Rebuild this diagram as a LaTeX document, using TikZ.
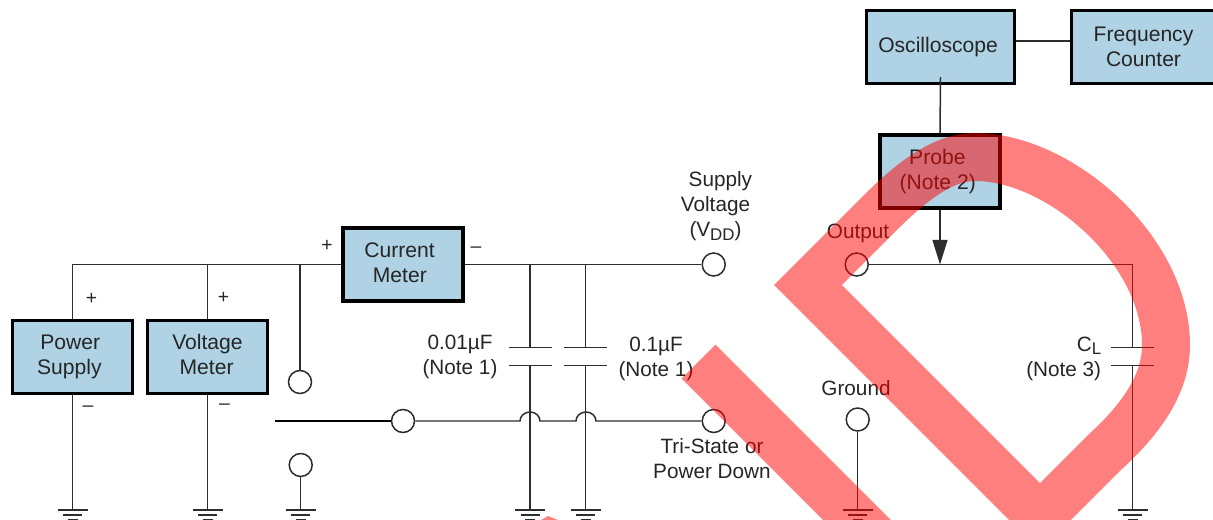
\documentclass[tikz,border=0pt]{standalone}
\usepackage{fontspec}
\setmainfont{Liberation Sans}
\usetikzlibrary{arrows.meta}
\definecolor{boxblue}{RGB}{175,210,228}
\definecolor{wire}{RGB}{45,45,45}
\newcommand{\lowtxt}[1]{\raisebox{-2.2pt}{\fontsize{9.6}{10}\selectfont #1}}
\tikzset{
	unit/.style={draw=black,fill=boxblue,line width=2pt,minimum width=2.4cm,minimum height=1.46cm,inner sep=0pt,align=center,font=\fontsize{12}{14.2}\selectfont,text=black!85},
	term/.style={circle,draw=wire,line width=0.85pt,minimum size=0.46cm,inner sep=0pt},
	lab/.style={inner sep=0pt,align=center,font=\fontsize{11.8}{14.2}\selectfont,text=black!85},
	sign/.style={inner sep=0pt,font=\fontsize{11}{12}\selectfont,text=black!85}
}
\begin{document}
\begin{tikzpicture}[x=0.02cm,y=-0.02cm,>={Triangle[length=14pt,width=8.5pt]},wire/.style={draw=wire,line width=0.85pt}]
	\clip (0,0) rectangle (1213,520);
	\fill[white] (0,0) rectangle (1213,520);
	% blocks
	\node[unit] (ps) at (72.5,357) {\hspace*{-2.6pt}Power\\\hspace*{-3.6pt}Supply};
	\node[unit] (vm) at (207.5,357) {Voltage\\\hspace*{-1pt}Meter\vphantom{y}};
	\node[unit] (cm) at (403,264.5) {\hspace*{-4pt}Current\\\hspace*{-3.6pt}Meter\vphantom{y}};
	\node[unit,minimum width=2.96cm] (osc) at (940.5,47) {\hspace*{-2.8pt}Oscilloscope\vphantom{A}};
	\node[unit,minimum width=2.88cm] (fc) at (1143.5,47) {Frequency\\Counter};
	\node[unit] (probe) at (940,171.5) {\hspace*{-3pt}Probe\\\hspace*{-2.6pt}(Note 2)};
	% terminals
	\node[term] (vdd) at (713.7,264.5) {};
	\node[term] (out) at (856.7,264.5) {};
	\node[term] (gt) at (857.7,419.5) {};
	\node[term] (tri) at (713.7,421) {};
	\node[term] (swa) at (300,382) {};
	\node[term] (swb) at (403,421) {};
	\node[term] (swc) at (300.7,465) {};
	\coordinate (swl) at (275,421);
	\coordinate (tap) at (940,264.5);
	\coordinate (cr) at (1132.7,264.5);
	% wires
	\draw[wire] (ps.north) |- (cm.west);
	\draw[wire] (vm.north) -- (vm.north |- cm.west);
	\draw[wire] (swa) -- (swa |- cm.west);
	\draw[wire] (cm.east) -- (vdd);
	\draw[wire] (out) -- (cr);
	\draw[wire] ([yshift=0.16cm]osc.south) -- (probe.north);
	\draw[wire] ([yshift=0.12cm]osc.east) -- ([yshift=0.12cm]fc.west);
	\draw[wire,->] (probe.south) -- (tap);
	\draw[draw=black,line width=1.7pt] (swl) -- (swb);
	\draw[wire] (swb) -- (520,421) arc[start angle=180,end angle=360,x radius=10,y radius=9] -- (576,421) arc[start angle=180,end angle=360,x radius=10,y radius=9] -- (tri);
	% capacitors
	\foreach \n/\x in {a/530,b/585.7,c/1132.7}{
		\coordinate (pu\n) at (\x,347.7);
		\coordinate (pl\n) at (\x,365.7);
		\coordinate (gnd\n) at (\x,510);
		\draw[wire] (\x,264.5) -- (pu\n) (pl\n) -- (gnd\n);
		\draw[wire] (pu\n)+(-21.5,0) -- +(21.5,0) (pl\n)+(-21.5,0) -- +(21.5,0);
	}
	% grounds
	\coordinate (gndd) at (72.5,510);
	\coordinate (gnde) at (207.5,510);
	\coordinate (gndf) at (300.7,510);
	\coordinate (gndg) at (857.7,510);
	\draw[wire] (ps.south) -- (gndd);
	\draw[wire] (vm.south) -- (gnde);
	\draw[wire] (swc) -- (gndf);
	\draw[wire] (gt) -- (gndg);
	\foreach \n in {a,b,c,d,e,f,g}{
		\draw[wire] (gnd\n)+(-15,0) -- +(15,0) (gnd\n)+(-9.5,5) -- +(9.5,5) (gnd\n)+(-5,9.5) -- +(5,9.5);
	}
	% labels
	\node[lab] (lvdd) at (715.5,206.5) {\hspace*{5.6pt}Supply\\Voltage\\(V\lowtxt{DD})};
	\node[lab] (lout) at (858,233) {Output};
	\node[lab] (lgnd) at (856,388) {Ground};
	\node[lab] (lca) at (460,356.5) {0.01µF\\(Note 1)};
	\node[lab] (lcb) at (656,358.5) {0.1µF\\(Note 1)};
	\node[lab] (ltri) at (712,458.5) {Tri-State or\\Power Down};
	\node[lab,align=right,anchor=east] (lcl) at (1101.5,358.5) {C\lowtxt{L}\\(Note 3)};
	\node[sign] (s1) at (327,246) {+};
	\node[sign] (s2) at (476,250) {–};
	\node[sign] (s3) at (91.5,299) {+};
	\node[sign] (s4) at (223.5,298) {+};
	\node[sign] (s5) at (88,409) {–};
	\node[sign] (s6) at (224.5,407) {–};
	% overlay
	\draw[red,draw opacity=0.5,line width=0.96cm,miter limit=10] (808,285) -- (880,213) .. controls (915,178) and (945,157) .. (975,157) .. controls (1060,157) and (1166,250) .. (1166,345) .. controls (1166,385) and (1140,420) .. (1105,452) -- (1040,517) -- cycle;
	\draw[red,draw opacity=0.5,line width=0.96cm] (698.5,361.5) -- (900,563);
	\fill[red,fill opacity=0.5] (548,516) -- (568,524) -- (534,524) -- cycle;
\end{tikzpicture}
\end{document}
